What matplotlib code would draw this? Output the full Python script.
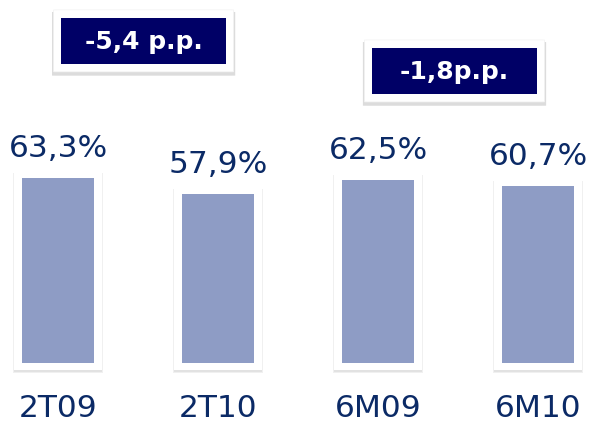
import matplotlib.pyplot as plt
from matplotlib.patches import FancyBboxPatch

categories = ['2T09', '2T10', '6M09', '6M10']
values = [63.3, 57.9, 62.5, 60.7]
value_labels = ['63,3%', '57,9%', '62,5%', '60,7%']
deltas = ['-5,4 p.p.', '-1,8p.p.']
delta_x = [0.535, 2.478]
delta_y = [110.3, 100.0]

text_color = '#0b2a66'
bar_color = '#8e9cc5'
navy = '#000066'

fig = plt.figure(figsize=(5.95, 4.26), dpi=100)
ax = fig.add_axes([0, 0, 1, 1])
ax.set_xlim(-0.3625, 3.356)
ax.set_ylim(-21.6, 124.3)
ax.axis('off')

xs = range(len(categories))
# soft shadow + white frame + fill
ax.bar(xs, [v + 5.0 for v in values], width=0.565, bottom=-3.3, color='#f0f0f0', zorder=1)
ax.bar(xs, [v + 4.7 for v in values], width=0.555, bottom=-3.0, color='#e2e2e2', zorder=1)
ax.bar(xs, [v + 4.4 for v in values], width=0.545, bottom=-2.4, color='white', zorder=2)
ax.bar(xs, values, width=0.45, color=bar_color, zorder=3)

for x, v, lab in zip(xs, values, value_labels):
    ax.text(x, v + 7.2, lab, ha='center', va='baseline', fontsize=22.5,
            color=text_color, family='DejaVu Sans')

for x, c in zip(xs, categories):
    ax.text(x, -18.5, c, ha='center', va='baseline', fontsize=22.5,
            color=text_color, family='DejaVu Sans')

# delta boxes
bw, bh = 165 / 160, 46 / 2.92
fw, fh = 180 / 160, 62 / 2.92
for x, y, t in zip(delta_x, delta_y, deltas):
    ax.add_patch(FancyBboxPatch((x - fw / 2 - 0.01, y - fh / 2 - 1.3), fw + 0.02, fh + 0.6,
                                boxstyle='round,pad=0,rounding_size=0.03',
                                fc='#dcdcdc', ec='none', zorder=4))
    ax.add_patch(FancyBboxPatch((x - fw / 2, y - fh / 2), fw, fh,
                                boxstyle='round,pad=0,rounding_size=0.02',
                                fc='white', ec='#f2f2f2', lw=0.5, zorder=5))
    ax.add_patch(plt.Rectangle((x - bw / 2, y - bh / 2), bw, bh, fc=navy, ec='none', zorder=6))
    ax.text(x, y - 0.3, t, ha='center', va='center', fontsize=18, fontweight='bold',
            color='white', zorder=7, family='DejaVu Sans')

fig.savefig('out.png', dpi=100)
